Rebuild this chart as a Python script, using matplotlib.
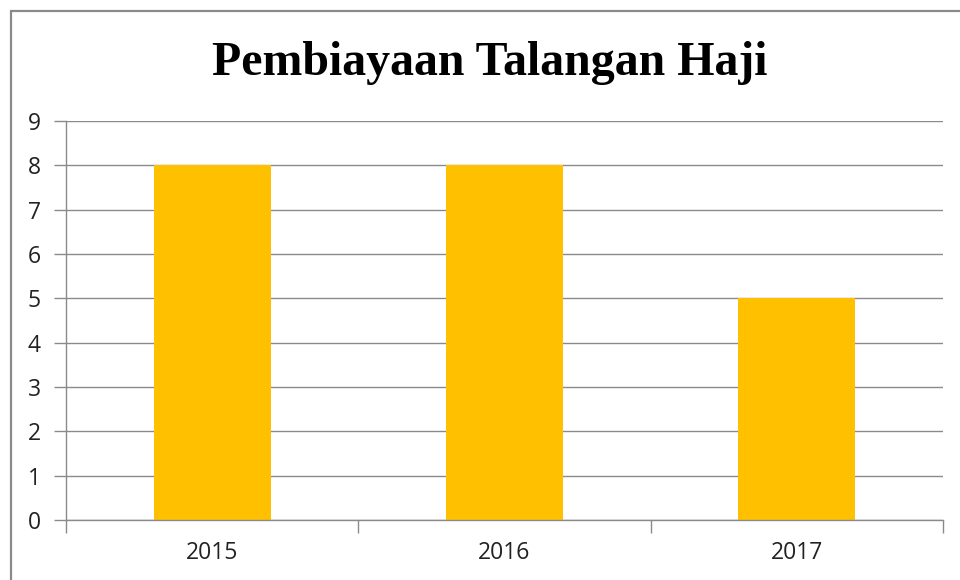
import matplotlib
matplotlib.use("Agg")
import matplotlib.pyplot as plt
from matplotlib.patches import Rectangle

years = ["2015", "2016", "2017"]
values = [8, 8, 5]
yticks = list(range(0, 10))

grey = "#8a8a8a"
fig = plt.figure(figsize=(9.6, 5.8), dpi=100)
fig.patch.set_facecolor("white")

# outer chart border
fig.patches.append(Rectangle((10.5/960, -0.1), 1.2, 1 - 11/580 + 0.1,
                             transform=fig.transFigure, fill=False,
                             edgecolor=grey, linewidth=1.6, zorder=0))

ax = fig.add_axes([66/960, 1 - 520/580, 877/960, 399/580])
x = list(range(len(years)))
ax.bar(x, values, width=0.40, color="#FFC000", zorder=3)
ax.set_xlim(-0.5, len(years) - 0.5)
ax.set_ylim(0, 9)
ax.set_yticks(yticks)
ax.set_yticklabels([str(v) for v in yticks], fontsize=16.5, family="Open Sans", color="#222222")
ax.set_xticks(x)
ax.set_xticklabels(years, fontsize=16.5, family="Open Sans", color="#222222")
ax.set_xticks([i - 0.5 for i in range(len(years) + 1)], minor=True)
ax.tick_params(axis="x", which="major", length=0, pad=15)
ax.tick_params(axis="x", which="minor", length=9, width=1, color=grey)
ax.tick_params(axis="y", length=9, width=1, color=grey, pad=9)
ax.grid(axis="y", color=grey, linewidth=1, zorder=1)
for s in ["top", "right"]:
    ax.spines[s].set_visible(False)
for s in ["left", "bottom"]:
    ax.spines[s].set_color(grey)
    ax.spines[s].set_linewidth(1)
    ax.spines[s].set_zorder(4)

fig.text(490/960, 1 - 63/580, "Pembiayaan Talangan Haji", ha="center", va="center",
         fontsize=34.5, fontweight="bold", family="Liberation Serif")

fig.savefig("out.png", dpi=100)
